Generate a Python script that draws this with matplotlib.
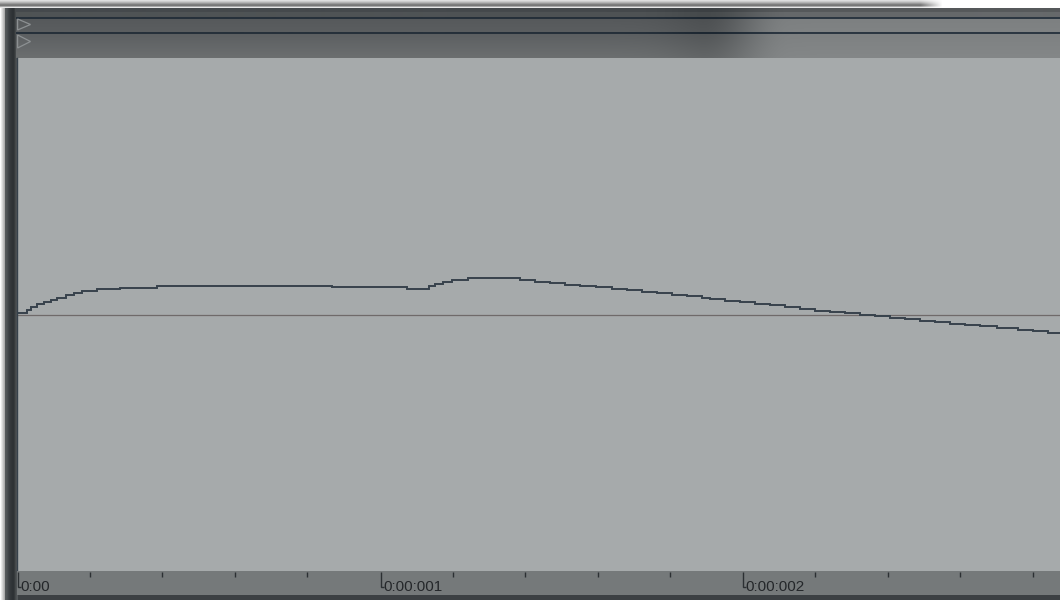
import numpy as np
import matplotlib
matplotlib.use("Agg")
import matplotlib.pyplot as plt
from matplotlib.patches import Rectangle, Polygon
from matplotlib.colors import to_rgb

# ---------------- data ----------------
# waveform drawn as a sample-and-hold step curve: level changes at these times
step_time_ms = [0.0000, 0.0276, 0.0369, 0.0535, 0.0736, 0.0921, 0.1103, 0.1334, 0.1563, 0.1792,
                0.2206, 0.2832, 0.3860, 0.8668, 1.0736, 1.1351, 1.1516, 1.1745, 1.1999, 1.2435,
                1.3860, 1.4274, 1.4687, 1.5101, 1.5514, 1.5955, 1.6388, 1.6802, 1.7215, 1.7629,
                1.8043, 1.8456, 1.8870, 1.9099, 1.9512, 1.9926, 2.0339, 2.0753, 2.1166, 2.1580,
                2.1994, 2.2407, 2.2821, 2.3234, 2.3648, 2.4062, 2.4475, 2.4889, 2.5302, 2.5716,
                2.6130, 2.6543, 2.7003, 2.7599, 2.8012, 2.8426]
step_amplitude = [0.0047, 0.0164, 0.0292, 0.0398, 0.0499, 0.0565, 0.0655, 0.0760, 0.0850, 0.0916,
                  0.0982, 0.1033, 0.1119, 0.1053, 0.0986, 0.1092, 0.1189, 0.1267, 0.1345, 0.1411,
                  0.1337, 0.1279, 0.1220, 0.1162, 0.1111, 0.1060, 0.1002, 0.0943, 0.0885, 0.0827,
                  0.0768, 0.0710, 0.0643, 0.0593, 0.0534, 0.0476, 0.0417, 0.0359, 0.0292, 0.0214,
                  0.0148, 0.0090, 0.0039, -0.0004, -0.0058, -0.0125, -0.0187, -0.0253, -0.0304, -0.0359,
                  -0.0409, -0.0460, -0.0526, -0.0593, -0.0651, -0.0713]
view_end_ms = 2.875
ruler_major_ms = [0, 1, 2]
ruler_labels = ["0:00", "0:00:001", "0:00:002"]
ruler_minor_step_ms = 0.2

# ---------------- layout (pixels) ----------------
W, H = 1060, 600
X0 = 17.3          # left edge of the waveform area
WAVE_TOP, WAVE_BOT = 58, 571
RULER_BOT = 595

fig = plt.figure(figsize=(W / 100, H / 100), dpi=100)
fig.patch.set_facecolor("white")

bg = fig.add_axes([0, 0, 1, 1])
bg.set_xlim(0, W)
bg.set_ylim(H, 0)
bg.axis("off")

def rgb(h):
    return np.array(to_rgb(h))

# top drop shadow of a window above
sh_h, sh_w = 9, 950
shadow = np.ones((sh_h, sh_w, 3))
col_prof = [rgb("#ebebeb"), rgb("#dedede"), rgb("#cccccc"), rgb("#b4b4b4"), rgb("#999999"),
            rgb("#7e7e7e"), rgb("#777777"), rgb("#a8a8a8"), rgb("#e6e6e6")]
xs = np.arange(sh_w)
fade = np.clip((sh_w - 8 - xs) / 22.0, 0, 1)
for r in range(sh_h):
    shadow[r] = (col_prof[r][None, :] * fade[:, None] + np.ones(3)[None, :] * (1 - fade[:, None]))
bg.imshow(shadow, extent=(0, sh_w, sh_h - 0.5, 0), aspect="auto", interpolation="bilinear", zorder=1)

# left shadow
ls = np.ones((2, 6, 3))
for c in range(6):
    ls[:, c] = 1 - c * 0.08
bg.imshow(ls, extent=(0, 6, H, 8), aspect="auto", interpolation="bilinear", zorder=1)

# outer dark frame
bg.add_patch(Rectangle((5, 8), W - 5, H - 8, facecolor="#3c4043", edgecolor="none", zorder=2))

# left bar gradient
lb_cols = [rgb("#55595b"), rgb("#4a4e51"), rgb("#3c4043"), rgb("#34383b"), rgb("#2f3336"),
           rgb("#2e3235"), rgb("#45494b"), rgb("#55595b")]
lb = np.array([lb_cols])
bg.imshow(lb, extent=(5, X0, H, 8), aspect="auto", interpolation="bilinear", zorder=3)

# header rows (two tracks) with horizontal light change on the right
hx = np.arange(int(X0), W)
t = np.clip((hx - 700) / 90.0, 0, 1)
s = t * t * (3 - 2 * t)
dark_spot = np.exp(-((hx - 712) / 45.0) ** 2) * 0.035
rows = []
for y in range(8, WAVE_TOP):
    if y < 12:
        L, R = rgb("#45494c"), rgb("#56595b")
    elif y < 17:
        L, R = rgb("#4f5355"), rgb("#66696b")
    elif y < 18.5:
        L, R = rgb("#26303a"), rgb("#2c3742")
    elif y < 32:
        f = (y - 18) / 14
        L = rgb("#56595b") * (1 - f) + rgb("#5b5e60") * f
        R = rgb("#7d8081") * (1 - f) + rgb("#808384") * f
    elif y < 33.5:
        L, R = rgb("#26303a"), rgb("#2c3742")
    else:
        f = (y - 33) / 25
        L = rgb("#5c5f61") * (1 - f) + rgb("#6c6f70") * f
        R = rgb("#7e8182") * (1 - f) + rgb("#848788") * f
    row = L[None, :] * (1 - s[:, None]) + R[None, :] * s[:, None]
    row = row - dark_spot[:, None]
    rows.append(np.clip(row, 0, 1))
hdr = np.array(rows)
bg.imshow(hdr, extent=(X0 - 1, W, WAVE_TOP, 8), aspect="auto", interpolation="bilinear", zorder=3)

# track triangles
for (ya, yb) in [(19, 30), (35, 48)]:
    bg.add_patch(Polygon([(17.6, ya), (30.5, (ya + yb) / 2), (17.6, yb)], closed=True,
                         fill=False, edgecolor="#8c9092", lw=0.9, zorder=4))

# ---------------- waveform axes ----------------
ax = fig.add_axes([X0 / W, 1 - WAVE_BOT / H, (W - X0) / W, (WAVE_BOT - WAVE_TOP) / H])
ax.set_facecolor("#a6aaab")
ax.set_xlim(0, view_end_ms)
ax.set_ylim(-1, 1)
for sp in ax.spines.values():
    sp.set_visible(False)
ax.spines["left"].set_visible(True)
ax.spines["left"].set_color("#36414b")
ax.spines["left"].set_linewidth(1.0)
ax.set_xticks([])
ax.set_yticks([])

ax.axhline(0, color="#6f6a6a", lw=0.9, zorder=2)
tt = list(step_time_ms) + [view_end_ms]
aa = list(step_amplitude) + [step_amplitude[-1]]
ax.step(tt, aa, where="post", color="#37424c", lw=1.4, zorder=3,
        solid_joinstyle="miter", solid_capstyle="butt")

# ---------------- time ruler ----------------
rax = fig.add_axes([X0 / W, 1 - RULER_BOT / H, (W - X0) / W, (RULER_BOT - WAVE_BOT) / H])
rax.set_facecolor("#75797a")
rax.set_xlim(0, view_end_ms)
rax.set_ylim(RULER_BOT - WAVE_BOT, 0)
for sp in rax.spines.values():
    sp.set_visible(False)
rax.set_xticks([])
rax.set_yticks([])

ms_per_px = view_end_ms / (W - X0)
minor = np.arange(0, view_end_ms, ruler_minor_step_ms)
for m in minor:
    if min(abs(m - M) for M in ruler_major_ms) < 1e-6:
        continue
    rax.plot([m, m], [0.5, 5.5], color="#2c3033", lw=1.0, solid_capstyle="butt")
for M, lab in zip(ruler_major_ms, ruler_labels):
    xm = M + 0.6 * ms_per_px
    rax.plot([xm, xm, xm + 3 * ms_per_px], [0.5, 16, 16], color="#2c3033", lw=1.0,
             solid_capstyle="butt", solid_joinstyle="miter")
    rax.text(M + 3.2 * ms_per_px, 19.8, lab, fontsize=11, family="Liberation Sans",
             color="#24272a", va="baseline", ha="left")

fig.savefig("out.png", dpi=100)
